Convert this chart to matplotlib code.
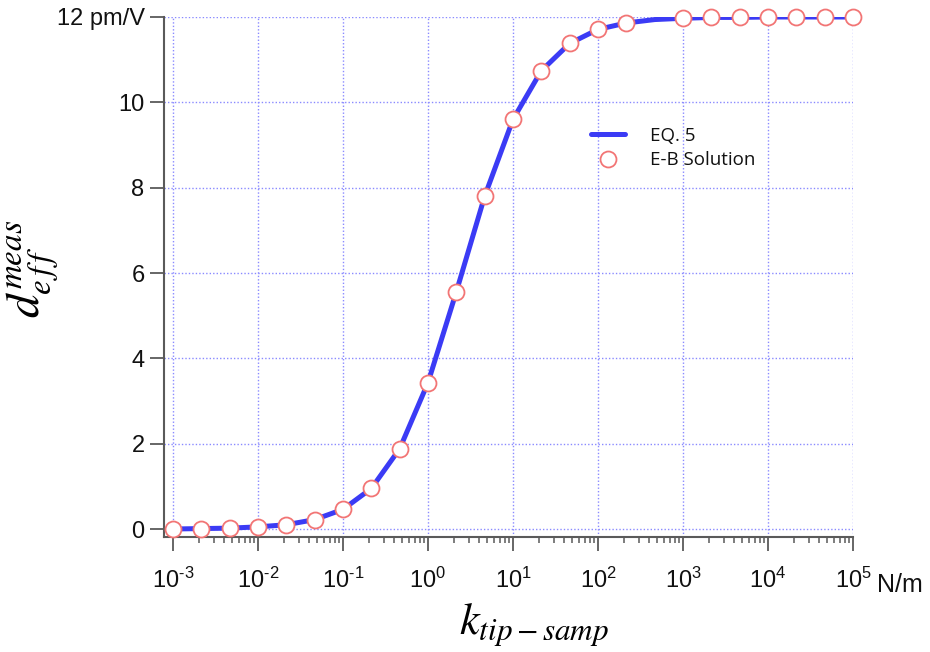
import numpy as np
import matplotlib
matplotlib.use("Agg")
import matplotlib.pyplot as plt
from matplotlib.ticker import FixedLocator, NullFormatter

# Tip-sample stiffness (N/m), one point every third of a decade
k_line = [1e-3, 2.154e-3, 4.642e-3, 1e-2, 2.154e-2, 4.642e-2, 1e-1, 2.154e-1, 4.642e-1,
          1e0, 2.154e0, 4.642e0, 1e1, 2.154e1, 4.642e1, 1e2, 2.154e2, 4.642e2,
          1e3, 2.154e3, 4.642e3, 1e4, 2.154e4, 4.642e4, 1e5]
# Effective measured coefficient from Eq. 5 (pm/V)
d_line = [0.00, 0.01, 0.02, 0.05, 0.10, 0.22, 0.46, 0.95, 1.88,
          3.43, 5.56, 7.80, 9.60, 10.74, 11.38, 11.71, 11.86, 11.94,
          11.97, 11.99, 11.99, 12.00, 12.00, 12.00, 12.00]

# Euler-Bernoulli solution points
k_eb = [1e-3, 2.154e-3, 4.642e-3, 1e-2, 2.154e-2, 4.642e-2, 1e-1, 2.154e-1, 4.642e-1,
        1e0, 2.154e0, 4.642e0, 1e1, 2.154e1, 4.642e1, 1e2, 2.154e2,
        1e3, 2.154e3, 4.642e3, 1e4, 2.154e4, 4.642e4, 1e5]
d_eb = [0.00, 0.01, 0.02, 0.05, 0.10, 0.22, 0.46, 0.95, 1.88,
        3.43, 5.56, 7.80, 9.60, 10.74, 11.38, 11.71, 11.86,
        11.97, 11.99, 11.99, 12.00, 12.00, 12.00, 12.00]

y_ticks = [0, 2, 4, 6, 8, 10, 12]
y_ticklabels = ["0", "2", "4", "6", "8", "10", "12 pm/V"]
x_decades = [-3, -2, -1, 0, 1, 2, 3, 4, 5]

plt.rcParams["font.family"] = ["Liberation Sans", "DejaVu Sans"]
plt.rcParams["mathtext.fontset"] = "custom"
plt.rcParams["mathtext.rm"] = "Liberation Sans"
plt.rcParams["mathtext.it"] = "Liberation Sans:italic"

W, H = 930, 652
fig = plt.figure(figsize=(W / 100, H / 100), dpi=100)
ax_l, ax_r, ax_t, ax_b = 164, 853, 17, 537
ax = fig.add_axes([ax_l / W, 1 - ax_b / H, (ax_r - ax_l) / W, (ax_b - ax_t) / H])

spine_c = "#5a5a5a"
grid_c = "#8a8aff"
text_c = "#111111"

ax.plot(k_line, d_line, color="#3b3bf5", lw=3.6, solid_capstyle="round",
        label="EQ. 5", zorder=3)
ax.plot(k_eb, d_eb, ls="none", marker="o", ms=11.5, mfc="white", mec="#f27575",
        mew=1.3, label="E-B Solution", zorder=4, clip_on=False)

ax.set_xscale("log")
ax.set_xlim(10 ** (-3 - 9 / 85), 1e5)
ax.set_ylim(-8 / (512 / 12), 12)

ax.xaxis.set_major_locator(FixedLocator([10.0 ** d for d in x_decades]))
minor = [m * 10.0 ** d for d in x_decades[:-1] for m in range(2, 10)]
ax.xaxis.set_minor_locator(FixedLocator(minor))
ax.xaxis.set_minor_formatter(NullFormatter())
ax.set_xticklabels([r"$10^{%s}$" % str(d).replace("-", "\u2011") for d in x_decades])
ax.set_yticks(y_ticks)
ax.set_yticklabels(y_ticklabels)

for s in ("top", "right"):
    ax.spines[s].set_visible(False)
for s in ("left", "bottom"):
    ax.spines[s].set_color(spine_c)
    ax.spines[s].set_linewidth(1.5)

ax.tick_params(axis="both", which="major", length=10, width=1.3, color=spine_c,
               labelsize=17, labelcolor=text_c)
ax.tick_params(axis="x", which="major", pad=12)
ax.tick_params(axis="y", which="major", pad=4)
ax.tick_params(axis="x", which="minor", length=4.5, width=1.1, color=spine_c)

ax.grid(True, which="major", color=grid_c, ls=(0, (1, 1.5)), lw=1.0, zorder=0)
ax.set_axisbelow(True)

ax.text(1.035, -0.092, "N/m", transform=ax.transAxes, fontsize=18,
        color=text_c, ha="left", va="center")

fig.text(33 / W, 1 - 269 / H, r"$d_{e\,f\,f}^{meas}$", rotation=90, fontsize=34,
         ha="center", va="center", math_fontfamily="stix")
fig.text(534 / W, 1 - 625 / H, r"$k_{tip-samp}$", fontsize=32,
         ha="center", va="center", math_fontfamily="stix")

leg = ax.legend(loc="upper left", bbox_to_anchor=((583 - ax_l) / (ax_r - ax_l),
                1 - (119 - ax_t) / (ax_b - ax_t)), frameon=False,
                prop={"family": "Open Sans", "size": 13.5}, handlelength=1.85,
                handletextpad=1.3, labelspacing=0.35, borderaxespad=0)
for t in leg.get_texts():
    t.set_color(text_c)

fig.savefig("out.png", dpi=100, facecolor="white")
